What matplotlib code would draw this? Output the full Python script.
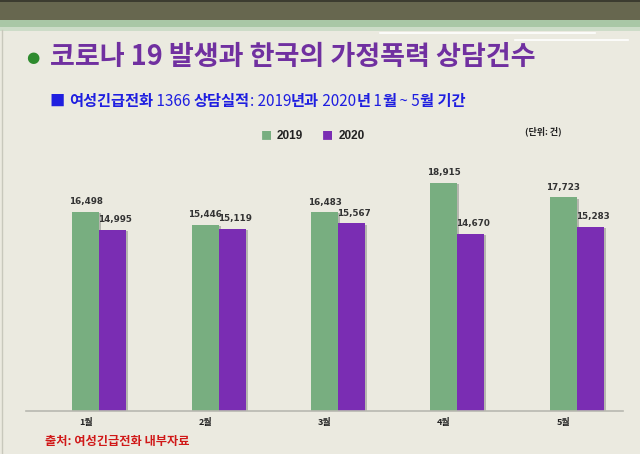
import numpy as np
import matplotlib
matplotlib.use("Agg")
import matplotlib.pyplot as plt
import matplotlib.patheffects as pe
from matplotlib.patches import Rectangle

##----------------------data----------------------
months = ["1월", "2월", "3월", "4월", "5월"]
counts_2019 = [16498, 15446, 16483, 18915, 17723]
counts_2020 = [14995, 15119, 15567, 14670, 15283]
series_names = ["2019", "2020"]
##------------------------------------------------

W, H = 640, 454
BG = "#ebeae0"
GREEN = "#78ae80"
PURPLE = "#7a2db3"
KR = ["Noto Sans CJK KR", "DejaVu Sans"]
NUM = ["Liberation Sans", "DejaVu Sans"]

fig = plt.figure(figsize=(W / 100, H / 100), dpi=100, facecolor=BG)

def fx(x):
    return x / W

def fy(y):
    return 1 - y / H

##----------------header bands--------------------
fig.patches.append(Rectangle((0, fy(20)), 1, 20 / H, transform=fig.transFigure,
                             facecolor="#67674f", edgecolor="none"))
fig.patches.append(Rectangle((0, fy(2)), 1, 2 / H, transform=fig.transFigure,
                             facecolor="#3c3c30", edgecolor="none"))
fig.patches.append(Rectangle((0, fy(27)), 1, 7 / H, transform=fig.transFigure,
                             facecolor="#a9c7a6", edgecolor="none"))
fig.patches.append(Rectangle((0, fy(31)), 1, 4 / H, transform=fig.transFigure,
                             facecolor="#cddcc8", edgecolor="none"))
fig.lines.append(plt.Line2D([fx(380), fx(595)], [fy(33), fy(33)], transform=fig.transFigure,
                            color="white", lw=1.2))
fig.lines.append(plt.Line2D([fx(515), fx(628)], [fy(40), fy(40)], transform=fig.transFigure,
                            color="white", lw=1.2))
fig.lines.append(plt.Line2D([fx(2), fx(2)], [fy(30), 0], transform=fig.transFigure,
                            color="#c8c8bc", lw=1))

##----------------title---------------------------
fig.text(fx(33), fy(58), "●", color="#2e8b2e", fontsize=11, ha="center", va="center",
         family=["DejaVu Sans"])
fig.text(fx(50), fy(57), "코로나 19 발생과 한국의 가정폭력 상담건수", color="#7030a0",
         fontsize=19.5, fontweight="bold", family=KR, ha="left", va="center")

# subtitle with mixed weights
renderer = fig.canvas.get_renderer()
parts = [("■ ", "bold"), ("여성긴급전화", "bold"), (" 1366 ", "normal"), ("상담실적", "bold"),
         (": 2019", "normal"), ("년과", "bold"), (" 2020", "normal"), ("년", "bold"),
         (" 1", "normal"), ("월", "bold"), (" ~ 5", "normal"), ("월 기간", "bold")]
x0 = fx(50)
for s, w in parts:
    t = fig.text(x0, fy(101), s, color="#1f1fe0", fontsize=11, fontweight=w,
                 family=KR, ha="left", va="center")
    bb = t.get_window_extent(renderer)
    x0 = bb.x1 / W

##----------------legend / unit-------------------
fig.text(fx(266), fy(136), "■", color=GREEN, fontsize=8, ha="center", va="center", family=KR)
fig.text(fx(277), fy(136), series_names[0], color="#222222", fontsize=8.5, fontweight="bold",
         ha="left", va="center", family=NUM)
fig.text(fx(327), fy(136), "■", color=PURPLE, fontsize=8, ha="center", va="center", family=KR)
fig.text(fx(339), fy(136), series_names[1], color="#222222", fontsize=8.5, fontweight="bold",
         ha="left", va="center", family=NUM)
fig.text(fx(543), fy(131), "(단위: 건)", color="#222222", fontsize=6.5, fontweight="bold",
         ha="center", va="center", family=KR)

##----------------bars----------------------------
ax = fig.add_axes([fx(26), 43.3 / H, 597 / W, 241 / H])
ax.set_facecolor("none")
x = np.arange(len(months))
bw = 0.226
shadow = [pe.SimplePatchShadow(offset=(1.5, -1), alpha=0.35, shadow_rgbFace="#555555"), pe.Normal()]
b1 = ax.bar(x, counts_2019, width=bw, color=GREEN, path_effects=shadow, zorder=2)
b2 = ax.bar(x + bw, counts_2020, width=bw, color=PURPLE, path_effects=shadow, zorder=2)

for rect, v in zip(b1, counts_2019):
    ax.annotate(f"{v:,}", (rect.get_x() + rect.get_width() / 2, v), xytext=(0, 4),
                textcoords="offset points", ha="center", va="bottom", fontsize=6.3,
                fontweight="bold", color="#333333", family=["DejaVu Sans"])
for rect, v in zip(b2, counts_2020):
    ax.annotate(f"{v:,}", (rect.get_x() + rect.get_width() / 2 + 0.02, v), xytext=(0, 4),
                textcoords="offset points", ha="center", va="bottom", fontsize=6.3,
                fontweight="bold", color="#333333", family=["DejaVu Sans"])

ax.set_xlim(-0.5, 4.5)
ax.set_ylim(0, 20000)
for side in ["top", "right", "left"]:
    ax.spines[side].set_visible(False)
ax.spines["bottom"].set_color("#b8b8b0")
ax.spines["bottom"].set_linewidth(1.2)
ax.set_yticks([])
ax.set_xticks(x)
ax.set_xticklabels(months, family=KR, fontsize=6.5, fontweight="bold", color="#222222")
ax.tick_params(axis="x", length=0, pad=5)

##----------------source--------------------------
fig.text(fx(45), fy(441), "출처: 여성긴급전화 내부자료", color="#d01818", fontsize=8.8,
         fontweight="bold", family=KR, ha="left", va="center")

fig.savefig("out.png", dpi=100, facecolor=BG)
